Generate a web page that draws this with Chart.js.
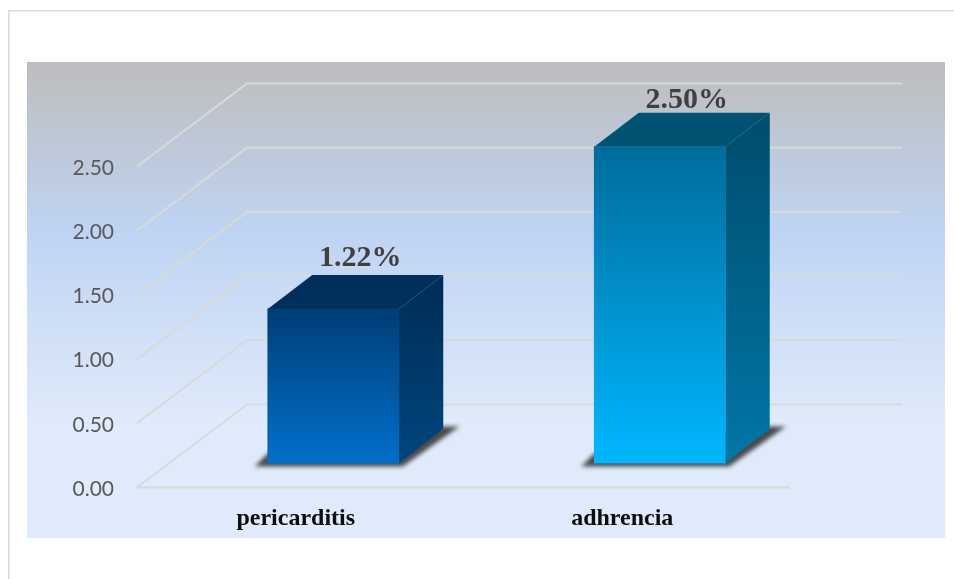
<!DOCTYPE html>
<html><head><meta charset="utf-8">
<style>html,body{margin:0;padding:0;background:#fff}canvas{display:block}</style>
<script src="https://cdn.jsdelivr.net/npm/chart.js@4"></script>
</head><body><canvas id="c" width="954" height="579"></canvas>
<script>
const categories = ['pericarditis', 'adhrencia'];
const values = [1.22, 2.50];
const valueLabels = ['1.22%', '2.50%'];
const yTicks = [0, 0.5, 1, 1.5, 2, 2.5];

const frontTop = ['#003d75', '#006c9c'], frontBottom = ['#0070cc', '#00b7ff'];
const sideTop = ['#002c54', '#004c6c'], sideBottom = ['#00467f', '#0077a8'];
const topFace = ['#002f5c', '#005273'];
const DX = 44.5, DY = 34;           // bar depth
const WALL_DX = 110, WALL_DY = 83; // wall depth
const LINE_UP = 1.5;               // grid sits slightly above label centres
const SHIFT_X = 33, SHIFT_Y = 25.5; // bars stand mid-floor
const labelLift = [43, 39];

function poly(ctx, pts, fill){
  ctx.beginPath(); pts.forEach((p,i)=> i?ctx.lineTo(p[0],p[1]):ctx.moveTo(p[0],p[1]));
  ctx.closePath(); ctx.fillStyle = fill; ctx.fill();
}
const scene = {
  id:'scene',
  beforeDraw(chart){
    const {ctx} = chart;
    ctx.save();
    ctx.fillStyle='#fff'; ctx.fillRect(0,0,954,579);
    ctx.fillStyle='#d9d9d9'; ctx.fillRect(8,10,946,1.5); ctx.fillRect(8,10,1.5,569);
    const g = ctx.createLinearGradient(0,62,0,538);
    g.addColorStop(0,'#bdbdbd'); g.addColorStop(0.36,'#bfd4f3'); g.addColorStop(0.75,'#dfeafa'); g.addColorStop(1,'#dfeafa');
    ctx.fillStyle=g; ctx.fillRect(27,62,918,476);
    ctx.restore();
  },
  beforeDatasetsDraw(chart){
    const {ctx, scales:{x,y}} = chart;
    ctx.save();
    ctx.strokeStyle='#d9d9d9'; ctx.lineWidth=2;
    const L=x.left, R=x.right;
    yTicks.forEach(v=>{
      const p=y.getPixelForValue(v)-LINE_UP;
      ctx.beginPath(); ctx.moveTo(L,p); ctx.lineTo(L+WALL_DX,p-WALL_DY); ctx.lineTo(R+WALL_DX+2,p-WALL_DY); ctx.stroke();
    });
    const b=y.getPixelForValue(0)-LINE_UP;
    ctx.beginPath(); ctx.moveTo(L,b); ctx.lineTo(R,b); ctx.stroke();
    ctx.restore();
    ctx.save();
    ctx.translate(SHIFT_X,-SHIFT_Y);
    chart.getDatasetMeta(0).data.forEach((bar,i)=>{
      const l=bar.x-bar.width/2, r=bar.x+bar.width/2, t=bar.y, bt=bar.base;
      ctx.save();
      ctx.filter='blur(2px)';
      poly(ctx,[[l-13,bt+3],[r+4,bt+3],[r+DX+16,bt-DY-3],[r+DX,bt-DY-3],[l,bt-10]],'rgba(45,45,45,0.85)');
      ctx.restore();
      const gs=ctx.createLinearGradient(0,t-DY,0,bt);
      gs.addColorStop(0,sideTop[i]); gs.addColorStop(1,sideBottom[i]);
      poly(ctx,[[r,t],[r+DX,t-DY],[r+DX,bt-DY-1],[r,bt]],gs);
      poly(ctx,[[l,t],[l+DX,t-DY],[r+DX,t-DY],[r,t]],topFace[i]);
    });
    ctx.restore();
    ctx.save(); ctx.translate(SHIFT_X,-SHIFT_Y);
    chart.$shifted=true;
  },
  afterDatasetsDraw(chart){
    if(chart.$shifted){chart.ctx.restore(); chart.$shifted=false;}
    const {ctx}=chart;
    ctx.save();
    ctx.font='bold 30px "Liberation Serif"'; ctx.fillStyle='#404040';
    ctx.textAlign='center'; ctx.textBaseline='alphabetic';
    chart.getDatasetMeta(0).data.forEach((bar,i)=>{
      ctx.fillText(valueLabels[i], bar.x+SHIFT_X+27, bar.y-SHIFT_Y-labelLift[i]);
    });
    ctx.restore();
  }
};
new Chart(document.getElementById('c'),{
  type:'bar',
  data:{labels:categories,datasets:[{
    data:values, yAxisID:'yBar', barThickness:131,
    backgroundColor(c){
      const ch=c.chart; if(!ch.chartArea) return frontBottom[c.dataIndex];
      const s=ch.scales.yBar;
      const g=ch.ctx.createLinearGradient(0,s.getPixelForValue(values[c.dataIndex]),0,s.getPixelForValue(0));
      g.addColorStop(0,frontTop[c.dataIndex]); g.addColorStop(1,frontBottom[c.dataIndex]);
      return g;
    }
  }]},
  options:{
    responsive:false, animation:false, devicePixelRatio:1,
    layout:{padding:{top:168,right:164,left:0,bottom:0}},
    plugins:{legend:{display:false},tooltip:{enabled:false},title:{display:false}},
    scales:{
      x:{
        grid:{display:false,drawTicks:false},border:{display:false},
        afterFit(s){s.height=90;},
        ticks:{padding:15,labelOffset:-4.5,color:'#0d0d0d',maxRotation:0,font:{family:'"Liberation Serif"',weight:'bold',size:24}}
      },
      y:{
        min:0,max:2.5,
        grid:{display:false,drawTicks:false},border:{display:false},
        afterFit(s){s.width=137;},
        afterBuildTicks(s){s.ticks=yTicks.map(v=>({value:v}));},
        ticks:{padding:23,color:'#595959',font:{family:'Lato',size:21},callback:v=>v.toFixed(2)}
      },
      yBar:{min:0,max:2.533,display:false}
    }
  },
  plugins:[scene]
});
</script></body></html>
